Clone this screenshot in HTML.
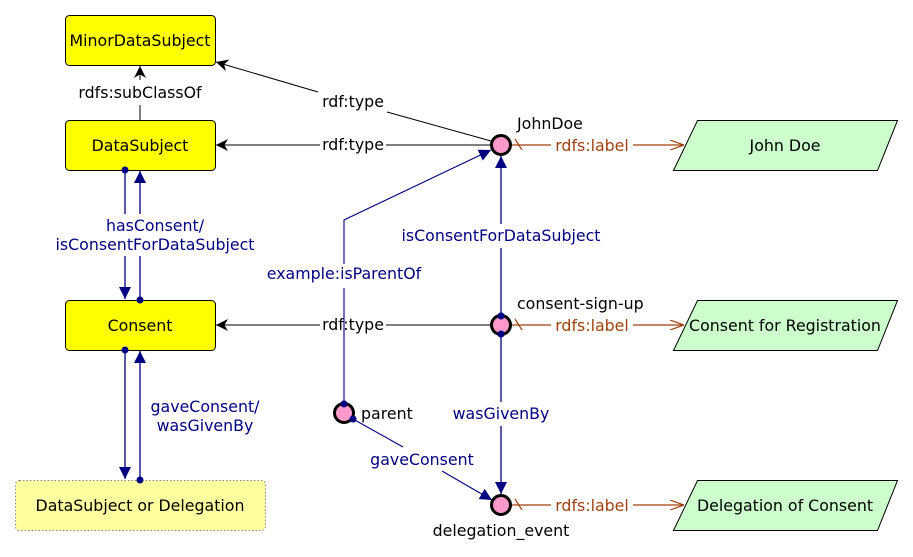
<!DOCTYPE html>
<html><head><meta charset="utf-8"><style>
html,body{margin:0;padding:0;background:#fff;}
svg{display:block;font-family:"DejaVu Sans","Liberation Sans",sans-serif;font-size:15.8px;}
</style></head><body>
<svg width="913" height="557" viewBox="0 0 913 557">
<defs>
<marker id="blk" viewBox="0 0 10 10" refX="10" refY="5" markerWidth="12" markerHeight="12" markerUnits="userSpaceOnUse" orient="auto"><path d="M0,0 L10,5 L0,10 L3,5 Z" fill="#000"/></marker>
<marker id="blu" viewBox="0 0 10 10" refX="10" refY="5" markerWidth="12" markerHeight="12" markerUnits="userSpaceOnUse" orient="auto"><path d="M0,0 L10,5 L0,10 Z" fill="#000080"/></marker>
<marker id="brn" viewBox="0 0 14 10" refX="14" refY="5" markerWidth="14" markerHeight="10" markerUnits="userSpaceOnUse" orient="auto"><path d="M0,0 L14,5 L0,10" fill="none" stroke="#a0410d" stroke-width="1.2"/></marker>
</defs>

<g><rect x="65.5" y="15.5" width="150" height="50" rx="4" fill="#ffff00" stroke="#000"/><text x="140" y="46" text-anchor="middle">MinorDataSubject</text></g>
<g><rect x="65.5" y="120.5" width="150" height="50" rx="4" fill="#ffff00" stroke="#000"/><text x="140" y="151" text-anchor="middle">DataSubject</text></g>
<g><rect x="65.5" y="300.5" width="150" height="50" rx="4" fill="#ffff00" stroke="#000"/><text x="140" y="331" text-anchor="middle">Consent</text></g>
<g><rect x="15.5" y="480.5" width="250" height="50" rx="4" fill="#ffffa0" stroke="#888" stroke-dasharray="1.5,2"/><text x="140" y="511" text-anchor="middle">DataSubject or Delegation</text></g>

<g><line x1="140" y1="120" x2="140" y2="105" stroke="#000"/><line x1="140" y1="80" x2="140" y2="66" stroke="#000" marker-end="url(#blk)"/><text x="140" y="98" text-anchor="middle">rdfs:subClassOf</text></g>
<g><line x1="491" y1="141" x2="387" y2="112" stroke="#000"/><line x1="318" y1="92" x2="216" y2="62" stroke="#000" marker-end="url(#blk)"/><text x="353" y="107" text-anchor="middle">rdf:type</text></g>
<g><line x1="491" y1="145" x2="386" y2="145" stroke="#000"/><line x1="320" y1="145" x2="216" y2="145" stroke="#000" marker-end="url(#blk)"/><text x="353" y="150" text-anchor="middle">rdf:type</text></g>
<g><line x1="491" y1="325" x2="386" y2="325" stroke="#000"/><line x1="320" y1="325" x2="216" y2="325" stroke="#000" marker-end="url(#blk)"/><text x="353" y="330" text-anchor="middle">rdf:type</text></g>

<g stroke="#000080" stroke-width="1.3">
<line x1="125" y1="170" x2="125" y2="214"/><line x1="125" y1="256" x2="125" y2="299" marker-end="url(#blu)"/><circle cx="125" cy="170" r="3.5" fill="#000080" stroke="none"/>
<line x1="140" y1="300" x2="140" y2="256"/><line x1="140" y1="214" x2="140" y2="171" marker-end="url(#blu)"/><circle cx="140" cy="300" r="3.5" fill="#000080" stroke="none"/>
</g>
<text x="155" y="231" text-anchor="middle" fill="#000080">hasConsent/</text>
<text x="155" y="250" text-anchor="middle" fill="#000080">isConsentForDataSubject</text>
<g stroke="#000080" stroke-width="1.3">
<line x1="125" y1="350" x2="125" y2="479" marker-end="url(#blu)"/><circle cx="125" cy="350" r="3.5" fill="#000080" stroke="none"/>
<line x1="140" y1="480" x2="140" y2="351" marker-end="url(#blu)"/><circle cx="140" cy="480" r="3.5" fill="#000080" stroke="none"/>
</g>
<text x="205" y="412" text-anchor="middle" fill="#000080"><tspan x="205">gaveConsent/</tspan><tspan x="205" dy="19">wasGivenBy</tspan></text>

<g stroke="#000080" stroke-width="1.3"><line x1="501" y1="316" x2="501" y2="248"/><line x1="501" y1="224" x2="501" y2="156" marker-end="url(#blu)"/><circle cx="501" cy="316" r="3.5" fill="#000080" stroke="none"/></g>
<text x="501" y="241" text-anchor="middle" fill="#000080">isConsentForDataSubject</text>
<g stroke="#000080" stroke-width="1.3"><line x1="501" y1="334" x2="501" y2="402"/><line x1="501" y1="426" x2="501" y2="494" marker-end="url(#blu)"/><circle cx="501" cy="334" r="3.5" fill="#000080" stroke="none"/></g>
<text x="501" y="419" text-anchor="middle" fill="#000080">wasGivenBy</text>
<g stroke="#000080" stroke-width="1.1" fill="none"><polyline points="344,404 344,288"/><polyline points="344,264 344,220 491,150" marker-end="url(#blu)"/><circle cx="344" cy="404" r="3.5" fill="#000080" stroke="none"/></g>
<text x="344" y="279" text-anchor="middle" fill="#000080">example:isParentOf</text>
<g stroke="#000080" stroke-width="1.1"><line x1="353" y1="419" x2="403" y2="447"/><line x1="442" y1="471" x2="492" y2="500" marker-end="url(#blu)"/><circle cx="353" cy="419" r="3.5" fill="#000080" stroke="none"/></g>
<text x="422" y="465" text-anchor="middle" fill="#000080">gaveConsent</text>

<g stroke="#a0410d" stroke-width="1.2" fill="none">
<line x1="511" y1="145" x2="551" y2="145"/><line x1="633" y1="145" x2="684" y2="145" marker-end="url(#brn)"/><line x1="515" y1="139" x2="522" y2="150"/>
<line x1="511" y1="325" x2="551" y2="325"/><line x1="633" y1="325" x2="684" y2="325" marker-end="url(#brn)"/><line x1="515" y1="319" x2="522" y2="330"/>
<line x1="511" y1="505" x2="551" y2="505"/><line x1="633" y1="505" x2="684" y2="505" marker-end="url(#brn)"/><line x1="515" y1="499" x2="522" y2="510"/>
</g>
<g fill="#a0410d" text-anchor="middle"><text x="592" y="151">rdfs:label</text><text x="592" y="331">rdfs:label</text><text x="592" y="511">rdfs:label</text></g>

<g><polygon points="697.5,120.5 897.5,120.5 877.5,170.5 673.5,170.5" fill="#ccffcc" stroke="#000"/><text x="785" y="151" text-anchor="middle">John Doe</text></g>
<g><polygon points="697.5,300.5 897.5,300.5 877.5,350.5 673.5,350.5" fill="#ccffcc" stroke="#000"/><text x="785" y="331" text-anchor="middle">Consent for Registration</text></g>
<g><polygon points="697.5,480.5 897.5,480.5 877.5,530.5 673.5,530.5" fill="#ccffcc" stroke="#000"/><text x="785" y="511" text-anchor="middle">Delegation of Consent</text></g>

<g><circle cx="501" cy="145" r="9.5" fill="#ff99cc" stroke="#000" stroke-width="3"/><text x="517" y="129">JohnDoe</text></g>
<g><circle cx="501" cy="325" r="9.5" fill="#ff99cc" stroke="#000" stroke-width="3"/><text x="517" y="309">consent-sign-up</text></g>
<g><circle cx="344" cy="413" r="9.5" fill="#ff99cc" stroke="#000" stroke-width="3"/><text x="361" y="419">parent</text></g>
<g><circle cx="501" cy="505" r="9.5" fill="#ff99cc" stroke="#000" stroke-width="3"/><text x="501" y="536" text-anchor="middle">delegation_event</text></g>
<circle cx="501" cy="316" r="3.5" fill="#000080"/><circle cx="501" cy="334" r="3.5" fill="#000080"/><circle cx="344" cy="404" r="3.5" fill="#000080"/><circle cx="353" cy="419" r="3.5" fill="#000080"/>
</svg>
</body></html>
